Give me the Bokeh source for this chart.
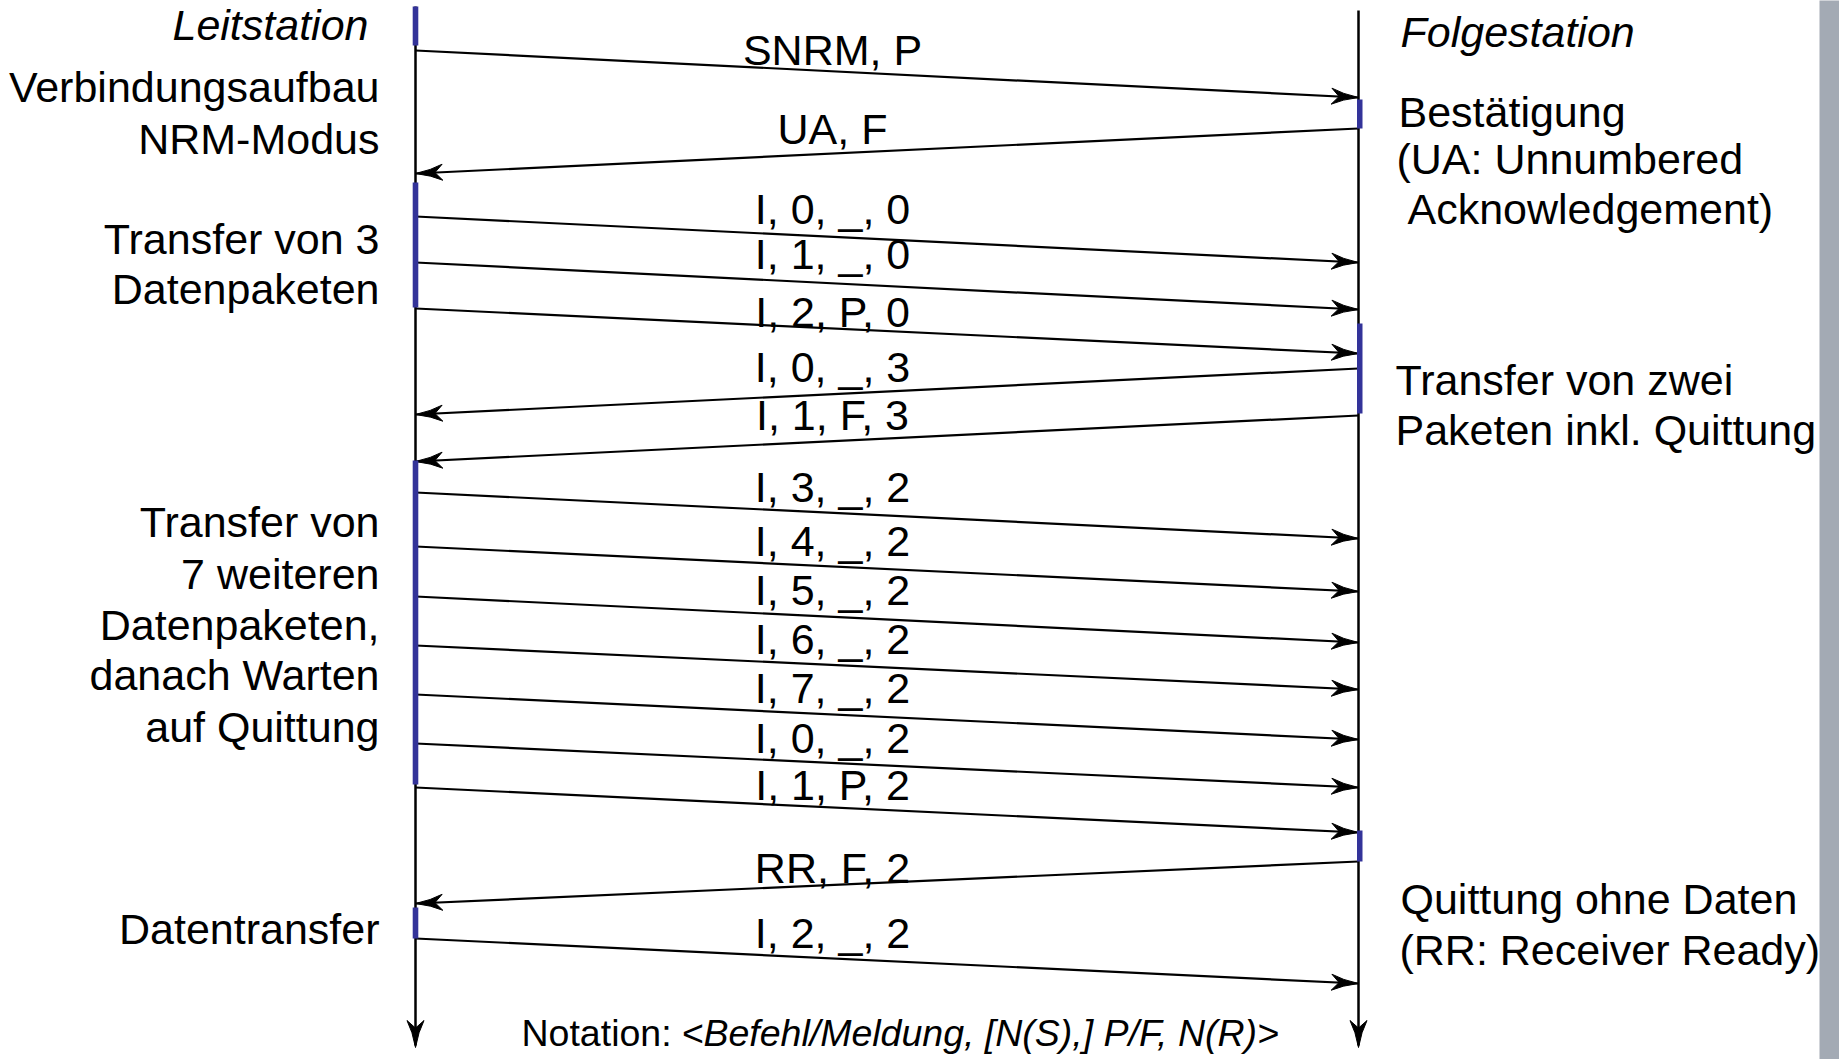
import numpy as np
from bokeh.plotting import figure
from bokeh.models import Range1d
from bokeh.core.properties import value
from bokeh.embed import file_html
from bokeh.resources import INLINE

# ---------------- data: message sequence ----------------
# sender: "L" = Leitstation, "R" = Folgestation ; times in diagram units (pixels of the original)
msg_labels = ["SNRM, P", "UA, F", "I, 0, _, 0", "I, 1, _, 0", "I, 2, P, 0", "I, 0, _, 3",
              "I, 1, F, 3", "I, 3, _, 2", "I, 4, _, 2", "I, 5, _, 2", "I, 6, _, 2",
              "I, 7, _, 2", "I, 0, _, 2", "I, 1, P, 2", "RR, F, 2", "I, 2, _, 2"]
msg_sender = ["L", "R", "L", "L", "L", "R", "R", "L", "L", "L", "L", "L", "L", "L", "R", "L"]
msg_t_send = [50, 128, 216, 262, 308, 368, 415, 492, 546, 596, 645, 694, 743, 787, 861, 938]
msg_t_recv = [97, 173, 262, 309, 353, 414, 461, 538, 591, 642, 689, 739, 787, 832, 903, 983]
msg_label_t = [64, 143, 223, 268, 326, 381, 429, 501, 555, 604, 653, 702, 752, 799, 882, 947]

# activation bars (start, end)
act_left = [(6, 45), (182, 307), (460, 784), (907, 938)]
act_right = [(99, 128), (323, 413), (830, 861)]

left_notes = ["Verbindungsaufbau", "NRM-Modus", "Transfer von 3", "Datenpaketen",
              "Transfer von", "7 weiteren", "Datenpaketen,", "danach Warten",
              "auf Quittung", "Datentransfer"]
left_notes_t = [101, 153, 253, 303, 536, 588, 639, 689, 741, 943]

right_notes = ["Bestätigung", "(UA: Unnumbered", "Acknowledgement)", "Transfer von zwei",
               "Paketen inkl. Quittung", "Quittung ohne Daten", "(RR: Receiver Ready)"]
right_notes_t = [126, 173, 223, 394, 444, 913, 964]
right_notes_indent = [0, -2, 9, -3, -3, 2, 1]

# ---------------- layout ----------------
W, H = 1839, 1059
XL, XR = 415, 1358
TDY = -15  # baseline correction for svg text
FONT = value("Liberation Sans")
FS = "43px"
BLUE = "#333399"

p = figure(width=W, height=H, x_range=Range1d(0, W), y_range=Range1d(H, 0),
           output_backend="svg", toolbar_location=None, min_border=0,
           x_axis_location=None, y_axis_location=None)
p.grid.visible = False
p.outline_line_color = None
p.background_fill_color = "white"

# gray side band
p.quad(left=[1819], right=[1845], bottom=[1100], top=[-20], fill_color="#A3AAB4", line_color=None)

# lifelines
p.segment(x0=[XL, XR], y0=[6, 10], x1=[XL, XR], y1=[1045, 1045], line_color="black", line_width=2.5)


def head(tipx, tipy, dx, dy, L=27, Wd=8.0):
    n = np.hypot(dx, dy)
    ux, uy = dx / n, dy / n
    vx, vy = -uy, ux
    pts = [(0, 0), (L * 0.55, Wd * 0.42), (L, Wd), (L * 0.72, 0), (L, -Wd), (L * 0.55, -Wd * 0.42)]
    xs = [tipx - a * ux + b * vx for a, b in pts]
    ys = [tipy - a * uy + b * vy for a, b in pts]
    return xs, ys


hx, hy = [], []
for x in (XL, XR):
    xs, ys = head(x, 1047, 0, 1, L=27, Wd=8.5)
    hx.append(xs); hy.append(ys)

x0s, y0s, x1s, y1s = [], [], [], []
for s, t0, t1 in zip(msg_sender, msg_t_send, msg_t_recv):
    xa, xb = (XL, XR) if s == "L" else (XR, XL)
    x0s.append(xa); y0s.append(t0); x1s.append(xb); y1s.append(t1)
    xs, ys = head(xb, t1, xb - xa, t1 - t0)
    hx.append(xs); hy.append(ys)

p.segment(x0=x0s, y0=y0s, x1=x1s, y1=y1s, line_color="black", line_width=2.2)
p.patches(xs=hx, ys=hy, fill_color="black", line_color="black", line_width=1)

# activation bars
p.quad(left=[XL - 2.8] * len(act_left), right=[XL + 2.8] * len(act_left),
       top=[a for a, b in act_left], bottom=[b for a, b in act_left],
       fill_color=BLUE, line_color=None)
p.quad(left=[XR - 1.5] * len(act_right), right=[XR + 4] * len(act_right),
       top=[a for a, b in act_right], bottom=[b for a, b in act_right],
       fill_color=BLUE, line_color=None)

# message labels
p.text(x=[832] * len(msg_labels), y=[t + TDY for t in msg_label_t], text=msg_labels, text_font=FONT,
       text_font_size=FS, text_align="center", text_baseline="alphabetic", text_color="black")

# station headings
p.text(x=[368], y=[39 + TDY], text=["Leitstation"], text_font=FONT, text_font_size=FS,
       text_font_style="italic", text_align="right", text_baseline="alphabetic")
p.text(x=[1400], y=[46 + TDY], text=["Folgestation"], text_font=FONT, text_font_size=FS,
       text_font_style="italic", text_align="left", text_baseline="alphabetic")

# notes
p.text(x=[379] * len(left_notes), y=[t + TDY for t in left_notes_t], text=left_notes, text_font=FONT,
       text_font_size=FS, text_align="right", text_baseline="alphabetic")
p.text(x=[1398 + d for d in right_notes_indent], y=[t + TDY for t in right_notes_t], text=right_notes,
       text_font=FONT, text_font_size=FS, text_align="left", text_baseline="alphabetic")

# notation line
p.text(x=[521], y=[1047 + TDY], text=["Notation: "], text_font=FONT, text_font_size="37.5px",
       text_align="left", text_baseline="alphabetic")
p.text(x=[681], y=[1047 + TDY], text=["<Befehl/Meldung, [N(S),] P/F, N(R)>"], text_font=FONT,
       text_font_size="37.5px", text_font_style="italic", text_align="left", text_baseline="alphabetic")

open("out.html", "w").write(file_html(p, INLINE))
